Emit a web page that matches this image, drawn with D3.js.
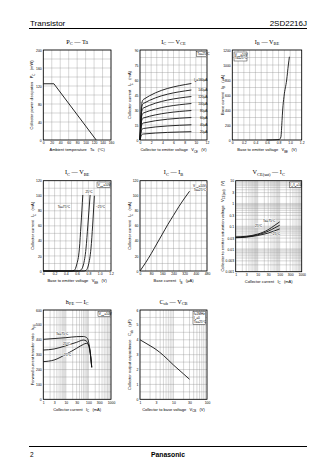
<!DOCTYPE html>
<html><head><meta charset="utf-8">
<script src="https://cdn.jsdelivr.net/npm/d3@7"></script>
<style>body{margin:0;background:#fff}svg{display:block}</style>
</head><body>
<svg id="c" width="336" height="474"></svg>
<script>
// ---------- DATA ----------
const pcTa = [[0,125],[25,125],[125,0]];

const icVceIB = ["160","140","120","100","80","60","40","20"];
const icVce160 = [[0,0],[0.1,14.2],[0.2,28.4],[0.35,37.3],[0.6,40.5],[9.2,56.5]];
const icVce140 = [[0,0],[0.1,12.8],[0.2,25.5],[0.35,33.6],[0.6,36.5],[9.2,50]];
const icVce120 = [[0,0],[0.1,11],[0.2,22.4],[0.35,29.4],[0.6,32],[9.2,43.5]];
const icVce100 = [[0,0],[0.1,9.5],[0.2,19],[0.35,24.8],[0.6,27],[9.2,36.5]];
const icVce80  = [[0,0],[0.1,7.7],[0.2,15.4],[0.35,20.2],[0.6,22],[9.2,29.5]];
const icVce60  = [[0,0],[0.1,6],[0.2,12],[0.35,15.6],[0.6,17],[9.2,22.5]];
const icVce40  = [[0,0],[0.1,4],[0.2,8],[0.35,10.6],[0.6,11.5],[9.2,15.2]];
const icVce20  = [[0,0],[0.1,2],[0.2,4.2],[0.35,5.5],[0.6,6],[9.2,8.3]];

const ibVbe = [[0.59,0],[0.81,6],[0.84,40],[0.86,260],[0.871,400],[0.894,580],[0.94,800],[0.969,1000],[0.987,1110]];

const icVbe75  = [[0,0],[0.5,0],[0.55,1],[0.59,8],[0.64,30],[0.668,61],[0.70,101]];
const icVbe25  = [[0,0],[0.62,0],[0.66,1],[0.71,8],[0.757,30],[0.79,61],[0.83,101]];
const icVbeM25 = [[0,0],[0.72,0],[0.76,1],[0.80,8],[0.845,30],[0.875,61],[0.905,100]];

const icIb = [[0,0],[40,11],[80,23],[120,36],[160,49],[200,62],[240,74],[280,86],[320,97],[355,106]];

const vsat75  = [[1,0.034],[3,0.036],[10,0.045],[30,0.07],[60,0.11],[100,0.155]];
const vsat25  = [[1,0.032],[3,0.034],[10,0.042],[30,0.06],[60,0.085],[100,0.11]];
const vsatM25 = [[1,0.031],[3,0.033],[10,0.039],[30,0.05],[60,0.063],[100,0.076]];

const hfe75  = [[1,403],[3,408],[10,414],[30,421],[60,422],[90,410],[110,354],[130,264],[140,215]];
const hfe25  = [[1,331],[3,338],[10,360],[30,383],[60,398],[80,392],[100,365],[120,309],[140,215]];
const hfeM25 = [[1,253],[3,264],[10,302],[30,343],[60,369],[80,376],[100,369],[120,320],[140,215]];

const cob = [[1,4.0],[2,3.6],[3,3.35],[5,2.95],[10,2.3],[20,1.7],[30,1.35]];

const ticksPc_x = [0,20,40,60,80,100,120,140,160];
const ticksPc_y = [0,40,80,120,160,200];
const ticksVce_x = [0,2,4,6,8,10,12];
const ticksIc90_y = [0,15,30,45,60,75,90];
const ticksV12_x = [0,0.2,0.4,0.6,0.8,1.0,1.2];
const labelsV12_x = ["0","0.2","0.4","0.6","0.8","1.0","1.2"];
const ticksIb1200_y = [0,200,400,600,800,1000,1200];
const ticksIc120_y = [0,20,40,60,80,100,120];
const ticksIb480_x = [0,80,160,240,320,400,480];
const ticksLog1000 = [1,3,10,30,100,300,1000];
const ticksVsat_y = [0.001,0.003,0.01,0.03,0.1,0.3,1,3,10];
const ticksHfe_y = [0,100,200,300,400,500,600];
const ticksLog100 = [1,3,10,30,100];
const ticksCob_y = [0,1,2,3,4,5,6];

// ---------- HELPERS ----------
const svg = d3.select('#c');
const SANS = "'Liberation Sans', Arial, sans-serif";
const SERIF = "'Liberation Serif', 'Times New Roman', serif";

function rich(text, parts, fs){
  let shift = 0;
  parts.forEach(p => {
    const isSub = Array.isArray(p);
    const t = text.append('tspan').text(isSub ? p[0] : p);
    if (isSub){ const d = fs*0.3; t.attr('font-size', fs*0.72).attr('dy', d - shift); shift = d; }
    else if (shift){ t.attr('dy', -shift); shift = 0; }
  });
  return text;
}
function range(a,b,s){ const o=[]; for(let v=a; v<=b+1e-9; v+=s) o.push(+v.toFixed(6)); return o; }
function logGrid(a,b){ const o=[]; for(let d=a; d<b; d*=10) for(let k=1;k<10;k++) o.push(d*k); o.push(b); return o; }

function panel(o){
  const g = svg.append('g');
  const x = (o.xlog ? d3.scaleLog() : d3.scaleLinear()).domain(o.xd).range([o.l, o.r]);
  const y = (o.ylog ? d3.scaleLog() : d3.scaleLinear()).domain(o.yd).range([o.b, o.t]);
  const grid = g.append('g').attr('stroke','#8a8a8a').attr('stroke-width',0.35);
  grid.selectAll('.gx').data(o.xg).join('line')
    .attr('x1',d=>x(d)).attr('x2',d=>x(d)).attr('y1',o.t).attr('y2',o.b);
  grid.selectAll('.gy').data(o.yg).join('line')
    .attr('y1',d=>y(d)).attr('y2',d=>y(d)).attr('x1',o.l).attr('x2',o.r);
  g.append('rect').attr('x',o.l).attr('y',o.t).attr('width',o.r-o.l).attr('height',o.b-o.t)
    .attr('fill','none').attr('stroke','#000').attr('stroke-width',0.8);
  const ax = g.append('g').attr('transform',`translate(0,${o.b})`)
    .call(d3.axisBottom(x).tickValues(o.xt).tickFormat((d,i)=>o.xtl ? o.xtl[i] : String(d)).tickSize(0).tickPadding(2));
  const ay = g.append('g').attr('transform',`translate(${o.l},0)`)
    .call(d3.axisLeft(y).tickValues(o.yt).tickFormat((d,i)=>o.ytl ? o.ytl[i] : String(d)).tickSize(0).tickPadding(1.6));
  [ax,ay].forEach(a=>{ a.select('.domain').remove();
    a.selectAll('text').attr('font-size',3.4).attr('font-family',SANS).attr('fill','#000'); });
  // title
  rich(g.append('text').attr('x',(o.l+o.r)/2).attr('y',o.t-6.5).attr('text-anchor','middle')
    .attr('font-family',SERIF).attr('font-size',6.2), o.title, 6.2);
  // x label
  rich(g.append('text').attr('x',(o.l+o.r)/2).attr('y',o.b+11.3).attr('text-anchor','middle')
    .attr('font-family',SANS).attr('font-size',4).attr('xml:space','preserve'), o.xlab, 4);
  // y label
  rich(g.append('text').attr('transform',`translate(${o.ylx},${(o.t+o.b)/2}) rotate(-90)`)
    .attr('text-anchor','middle').attr('dy','0.35em')
    .attr('font-family',SANS).attr('font-size',4).attr('xml:space','preserve'), o.ylab, 4);
  const line = d3.line().x(d=>x(d[0])).y(d=>y(d[1])).curve(o.curve || d3.curveMonotoneX);
  (o.series||[]).forEach(s=>{
    g.append('path').attr('d',line(s)).attr('fill','none').attr('stroke','#111').attr('stroke-width',0.9);
  });
  // legend box
  if (o.legend){
    const L = o.legend;
    g.append('rect').attr('x',L.x).attr('y',L.y).attr('width',L.w).attr('height',L.lines.length*3.8+1.4)
      .attr('fill','#fff').attr('stroke','#000').attr('stroke-width',0.4);
    L.lines.forEach((ln,i)=>{
      rich(g.append('text').attr('x',L.x+0.8).attr('y',L.y+3.6+i*3.8).attr('font-family',SANS)
        .attr('font-size',3.2), ln, 3.2);
    });
  }
  (o.notes||[]).forEach(n=>{
    rich(g.append('text').attr('x',n.x).attr('y',n.y).attr('text-anchor',n.a||'start')
      .attr('font-family',SANS).attr('font-size',n.fs||3.2).attr('paint-order','stroke')
      .attr('stroke','#fff').attr('stroke-width',0.8), n.t, n.fs||3.2);
  });
  return {x,y,g};
}

// ---------- HEADER / FOOTER ----------
svg.append('text').attr('x',30).attr('y',25.5).attr('font-family',SANS).attr('font-size',8).text('Transistor');
svg.append('text').attr('x',307).attr('y',25.5).attr('text-anchor','end').attr('font-family',SANS).attr('font-size',8).text('2SD2216J');
svg.append('line').attr('x1',29).attr('x2',307).attr('y1',28.5).attr('y2',28.5).attr('stroke','#000').attr('stroke-width',1.2);
svg.append('line').attr('x1',29).attr('x2',307).attr('y1',446.5).attr('y2',446.5).attr('stroke','#000').attr('stroke-width',1.2);
svg.append('text').attr('x',30).attr('y',457).attr('font-family',SANS).attr('font-size',6.5).text('2');
svg.append('text').attr('x',168).attr('y',457).attr('text-anchor','middle').attr('font-family',SANS)
  .attr('font-weight','bold').attr('font-size',6.8).text('Panasonic');

// ---------- PANELS ----------
// 1 Pc - Ta
panel({l:43.3,r:111,t:50,b:140,xd:[0,160],yd:[0,200],
  xt:ticksPc_x,yt:ticksPc_y,xg:range(0,160,20),yg:range(0,200,20),
  title:["P",["C"]," — Ta"],xlab:["Ambient temperature   Ta   (°C)"],
  ylab:["Collector power dissipation   P",["C"],"   (mW)"],ylx:32,
  series:[pcTa],curve:d3.curveLinear});

// 2 Ic - Vce
const p2 = panel({l:140,r:207,t:50,b:140,xd:[0,12],yd:[0,90],
  xt:ticksVce_x,yt:ticksIc90_y,xg:range(0,12,1),yg:range(0,90,7.5),
  title:["I",["C"]," — V",["CE"]],xlab:["Collector to emitter voltage   V",["CE"],"   (V)"],
  ylab:["Collector current   I",["C"],"   (mA)"],ylx:130,
  series:[icVce160,icVce140,icVce120,icVce100,icVce80,icVce60,icVce40,icVce20],
  legend:{x:196.5,y:51.2,w:10,lines:[["Ta=25°C"]]}});
[icVce160,icVce140,icVce120,icVce100,icVce80,icVce60,icVce40,icVce20].forEach((s,i)=>{
  const end = s[s.length-1];
  const t = p2.g.append('text').attr('x',207.5).attr('y',p2.y(end[1]) + (i===0 ? -2.2 : 1.2))
    .attr('text-anchor','end').attr('font-family',SANS).attr('font-size',3.2);
  if (i===0) rich(t,["I",["B"],"="+icVceIB[i]+"μA"],3.2); else t.text(icVceIB[i]+"μA");
});

// 3 Ib - Vbe
panel({l:232.3,r:301.7,t:50,b:140,xd:[0,1.2],yd:[0,1200],
  xt:ticksV12_x,xtl:labelsV12_x,yt:ticksIb1200_y,xg:range(0,1.2,0.1),yg:range(0,1200,100),
  title:["I",["B"]," — V",["BE"]],xlab:["Base to emitter voltage   V",["BE"],"   (V)"],
  ylab:["Base current   I",["B"],"   (μA)"],ylx:222.7,
  series:[ibVbe],
  legend:{x:234,y:52,w:13,lines:[["V",["CE"],"=10V"],["Ta=25°C"]]}});

// 4 Ic - Vbe
panel({l:43.3,r:111,t:180.7,b:271,xd:[0,1.2],yd:[0,120],
  xt:ticksV12_x,xtl:labelsV12_x,yt:ticksIc120_y,xg:range(0,1.2,0.1),yg:range(0,120,10),
  title:["I",["C"]," — V",["BE"]],xlab:["Base to emitter voltage   V",["BE"],"   (V)"],
  ylab:["Collector current   I",["C"],"   (mA)"],ylx:33,
  series:[icVbe75,icVbe25,icVbeM25],
  legend:{x:97,y:182,w:13,lines:[["V",["CE"],"=10V"]]},
  notes:[{x:70,y:207.5,a:'end',t:["Ta=75°C"]},{x:85.5,y:192.5,t:["25°C"]},{x:96,y:207.5,t:["−25°C"]}]});

// 5 Ic - Ib
panel({l:140,r:207,t:180.7,b:271,xd:[0,480],yd:[0,120],
  xt:ticksIb480_x,yt:ticksIc120_y,xg:range(0,480,40),yg:range(0,120,10),
  title:["I",["C"]," — I",["B"]],xlab:["Base current   I",["B"],"   (μA)"],
  ylab:["Collector current   I",["C"],"   (mA)"],ylx:130,
  series:[icIb],
  notes:[{x:206,y:187,a:'end',t:["V",["CE"],"=10V"]},{x:206,y:191,a:'end',t:["Ta=25°C"]}]});

// 6 Vce(sat) - Ic
panel({l:235.7,r:301.7,t:180.7,b:271.7,xlog:true,ylog:true,xd:[1,1000],yd:[0.001,10],
  xt:ticksLog1000,yt:ticksVsat_y,xg:logGrid(1,1000),yg:logGrid(0.001,10),
  title:["V",["CE(sat)"]," — I",["C"]],xlab:["Collector current   I",["C"],"   (mA)"],
  ylab:["Collector to emitter saturation voltage   V",["CE(sat)"],"   (V)"],ylx:222.7,
  series:[vsat75,vsat25,vsatM25],
  legend:{x:289.5,y:182,w:11.5,lines:[["I",["C"],"/I",["B"],"=10"]]},
  notes:[{x:263,y:222,t:["Ta=75°C"]},{x:262,y:226.5,a:'end',t:["25°C"]},{x:271,y:235,t:["−25°C"]}]});

// 7 hFE - Ic
panel({l:43.3,r:111,t:310,b:399.3,xlog:true,xd:[1,1000],yd:[0,600],
  xt:ticksLog1000,yt:ticksHfe_y,xg:logGrid(1,1000),yg:range(0,600,50),
  title:["h",["FE"]," — I",["C"]],xlab:["Collector current   I",["C"],"   (mA)"],
  ylab:["Forward current transfer ratio   h",["FE"]],ylx:33,
  series:[hfe75,hfe25,hfeM25],
  legend:{x:98,y:311.5,w:12,lines:[["V",["CE"],"=10V"]]},
  notes:[{x:56,y:335,t:["Ta=75°C"]},{x:63,y:345,t:["25°C"]},{x:62,y:356,t:["−25°C"]}]});

// 8 Cob - Vcb
panel({l:140,r:207,t:310,b:399.3,xlog:true,xd:[1,100],yd:[0,6],
  xt:ticksLog100,yt:ticksCob_y,xg:logGrid(1,100),yg:range(0,6,0.5),
  title:["C",["ob"]," — V",["CB"]],xlab:["Collector to base voltage   V",["CB"],"   (V)"],
  ylab:["Collector output capacitance   C",["ob"],"   (pF)"],ylx:130,
  series:[cob],
  legend:{x:193,y:311.5,w:12.5,lines:[["f=1MHz"],["I",["E"],"=0"],["Ta=25°C"]]}});
</script>
</body></html>
